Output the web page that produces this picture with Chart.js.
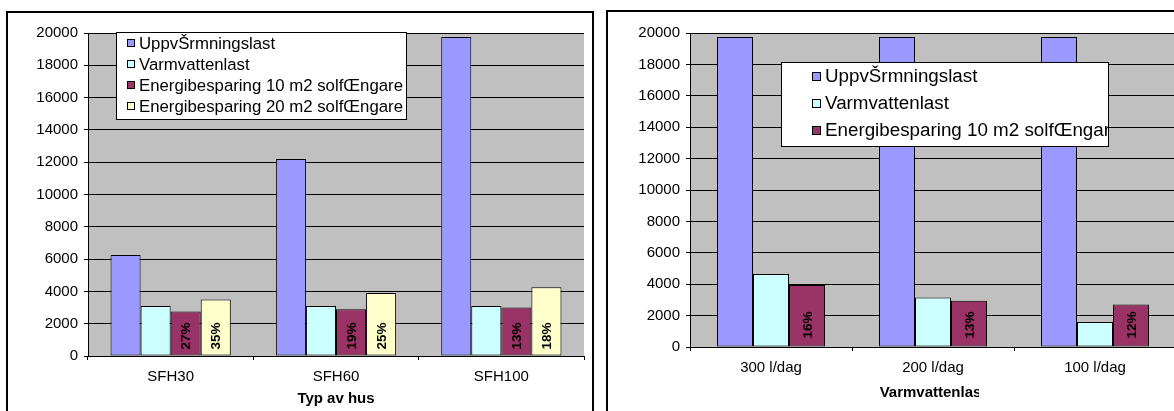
<!DOCTYPE html>
<html>
<head>
<meta charset="utf-8">
<script src="https://cdn.jsdelivr.net/npm/chart.js@4.4.0/dist/chart.umd.min.js"></script>
<style>
  html, body { margin: 0; padding: 0; background: #fff; overflow: hidden; width: 1174px; height: 411px; }
  #left  { position: absolute; left: 0;     top: 0; }
  #right { position: absolute; left: 600px; top: 0; }
</style>
</head>
<body>
<canvas id="left" width="600" height="411"></canvas>
<canvas id="right" width="600" height="411"></canvas>
<script>
// ---- data: chart 1, house types ----
const houseTypes      = ['SFH30', 'SFH60', 'SFH100'];
const heatingLoad     = [6250, 12200, 19750];
const hotWaterLoad    = [3100, 3100, 3100];
const saving10m2      = [2750, 2900, 3000];
const saving20m2      = [3500, 3900, 4250];
const saving10m2Share = ['27%', '19%', '13%'];
const saving20m2Share = ['35%', '25%', '18%'];

// ---- data: chart 2, hot water demand (SFH100) ----
const hotWaterLevels   = ['300 l/dag', '200 l/dag', '100 l/dag'];
const heatingLoadB     = [19750, 19750, 19750];
const hotWaterLoadB    = [4650, 3150, 1600];
const saving10m2B      = [3950, 2950, 2700];
const saving10m2ShareB = ['16%', '13%', '12%'];

// ---- value axis ----
const yMin = 0, yMax = 20000, yStep = 2000;

// ---- series names and colours ----
const seriesNames  = ['UppvŠrmningslast', 'Varmvattenlast',
                      'Energibesparing 10 m2 solfŒngare', 'Energibesparing 20 m2 solfŒngare'];
const seriesColors = ['#9999FF', '#CCFFFF', '#993366', '#FFFFCC'];

const FONT = "'Liberation Sans', Arial, Helvetica, sans-serif";
Chart.defaults.font.family = FONT;
Chart.defaults.color = '#000';

// grey plot area on a white chart
const plotBg = {
  id: 'plotBg',
  beforeDraw(chart, args, o) {
    const { ctx, chartArea: a } = chart;
    ctx.save();
    ctx.fillStyle = '#fff';
    ctx.fillRect(0, 0, chart.width, chart.height);
    ctx.fillStyle = o.color;
    ctx.fillRect(a.left, a.top, a.right - a.left, a.bottom - a.top);
    ctx.restore();
  }
};

// rotated share labels at the foot of the bars
const barText = {
  id: 'barText',
  afterDatasetsDraw(chart, args, o) {
    const ctx = chart.ctx;
    chart.data.datasets.forEach((ds, i) => {
      if (!ds.barText) return;
      chart.getDatasetMeta(i).data.forEach((bar, j) => {
        ctx.save();
        ctx.translate(bar.x, bar.base - o.pad);
        ctx.rotate(-Math.PI / 2);
        ctx.font = 'bold ' + o.size + 'px ' + FONT;
        ctx.fillStyle = '#000';
        ctx.textAlign = 'left';
        ctx.textBaseline = 'middle';
        ctx.fillText(ds.barText[j], 0, 1);
        ctx.restore();
      });
    });
  }
};

// boxed legend inside the plot, axis title and the chart frame
const decor = {
  id: 'decor',
  afterDraw(chart, args, o) {
    const { ctx, chartArea: a } = chart;
    const L = o.legend;
    ctx.save();
    // legend box
    ctx.fillStyle = '#fff';
    ctx.fillRect(L.x, L.y, L.w, L.h);
    ctx.strokeStyle = '#000';
    ctx.lineWidth = 1;
    ctx.strokeRect(L.x + 0.5, L.y + 0.5, L.w, L.h);
    ctx.save();
    ctx.beginPath();
    ctx.rect(L.x + 1, L.y + 1, L.w - 1, L.h - 1);
    ctx.clip();
    ctx.font = L.size + 'px ' + FONT;
    ctx.textBaseline = 'middle';
    ctx.textAlign = 'left';
    chart.data.datasets.forEach((ds, i) => {
      const y = L.rows[i];
      const top = Math.round(y - L.sw / 2);
      ctx.fillStyle = ds.backgroundColor;
      ctx.fillRect(L.sx, top, L.sw, L.sw);
      ctx.strokeStyle = '#000';
      ctx.strokeRect(L.sx + 0.5, top + 0.5, L.sw - 1, L.sw - 1);
      ctx.fillStyle = '#000';
      ctx.fillText(ds.label, L.tx, y + 1);
    });
    ctx.restore();

    // x axis title
    ctx.save();
    if (o.title.clipRight) {
      ctx.beginPath();
      ctx.rect(0, 0, o.title.clipRight, chart.height);
      ctx.clip();
    }
    ctx.font = 'bold ' + o.title.size + 'px ' + FONT;
    ctx.fillStyle = '#000';
    ctx.textAlign = 'center';
    ctx.textBaseline = 'middle';
    ctx.fillText(o.title.text, (a.left + a.right) / 2, o.title.y);
    ctx.restore();

    // outer frame
    ctx.strokeStyle = '#000';
    ctx.lineWidth = 2;
    const F = o.frame;
    ctx.strokeRect(F.x, F.y, F.w, F.h);
    ctx.restore();
  }
};

function makeChart(id, cfg) {
  const datasets = cfg.series.map((s, i) => ({
    label: seriesNames[i],
    data: s.data,
    barText: s.text || null,
    backgroundColor: seriesColors[i],
    borderColor: '#000',
    borderWidth: 1,
    borderSkipped: false,
    categoryPercentage: cfg.catPct,
    barPercentage: 1
  }));
  return new Chart(document.getElementById(id), {
    type: 'bar',
    data: { labels: cfg.labels, datasets },
    plugins: [plotBg, barText, decor],
    options: {
      responsive: false,
      animation: false,
      layout: { padding: { top: cfg.area.top, right: 600 - cfg.area.right, left: 0, bottom: 0 } },
      plugins: {
        legend: { display: false },
        tooltip: { enabled: false },
        plotBg: { color: '#C0C0C0' },
        barText: { pad: cfg.textPad, size: 13.5 },
        decor: { legend: cfg.legend, title: cfg.title, frame: cfg.frame }
      },
      scales: {
        x: {
          type: 'category',
          offset: true,
          afterFit: s => { s.height = 411 - cfg.area.bottom; },
          grid: { offset: true, drawOnChartArea: false, drawTicks: true, tickLength: 4, color: '#000' },
          border: { display: true, color: '#000', width: 1 },
          ticks: { padding: 8, font: { size: 15 }, color: '#000', maxRotation: 0, autoSkip: false }
        },
        y: {
          min: yMin, max: yMax,
          afterFit: s => { s.width = cfg.area.left; },
          grid: { color: '#000', drawTicks: true, tickLength: 4 },
          border: { display: true, color: '#000', width: 1 },
          ticks: { stepSize: yStep, padding: 6, font: { size: 15 }, color: '#000',
                   callback: v => String(v) }
        }
      }
    }
  });
}

makeChart('left', {
  labels: houseTypes,
  catPct: 4 / 5.5,
  area: { left: 88, right: 584, top: 33, bottom: 356 },
  textPad: 6,
  series: [
    { data: heatingLoad },
    { data: hotWaterLoad },
    { data: saving10m2, text: saving10m2Share },
    { data: saving20m2, text: saving20m2Share }
  ],
  legend: { x: 116, y: 32, w: 290, h: 87, sx: 127, sw: 8, tx: 139, size: 16.8, rows: [43, 64, 85, 106] },
  title: { text: 'Typ av hus', y: 399, size: 15 },
  frame: { x: 7, y: 12, w: 586, h: 420 }
});

makeChart('right', {
  labels: hotWaterLevels,
  catPct: 3 / 4.5,
  area: { left: 90, right: 576, top: 33, bottom: 347 },
  textPad: 8,
  series: [
    { data: heatingLoadB },
    { data: hotWaterLoadB },
    { data: saving10m2B, text: saving10m2ShareB }
  ],
  legend: { x: 181, y: 62, w: 327, h: 84, sx: 212, sw: 9, tx: 225, size: 18.8, rows: [76, 103, 130] },
  title: { text: 'Varmvattenlast', y: 393, size: 15, clipRight: 379 },
  frame: { x: 7, y: 11, w: 600, h: 420 }
});
</script>
</body>
</html>
